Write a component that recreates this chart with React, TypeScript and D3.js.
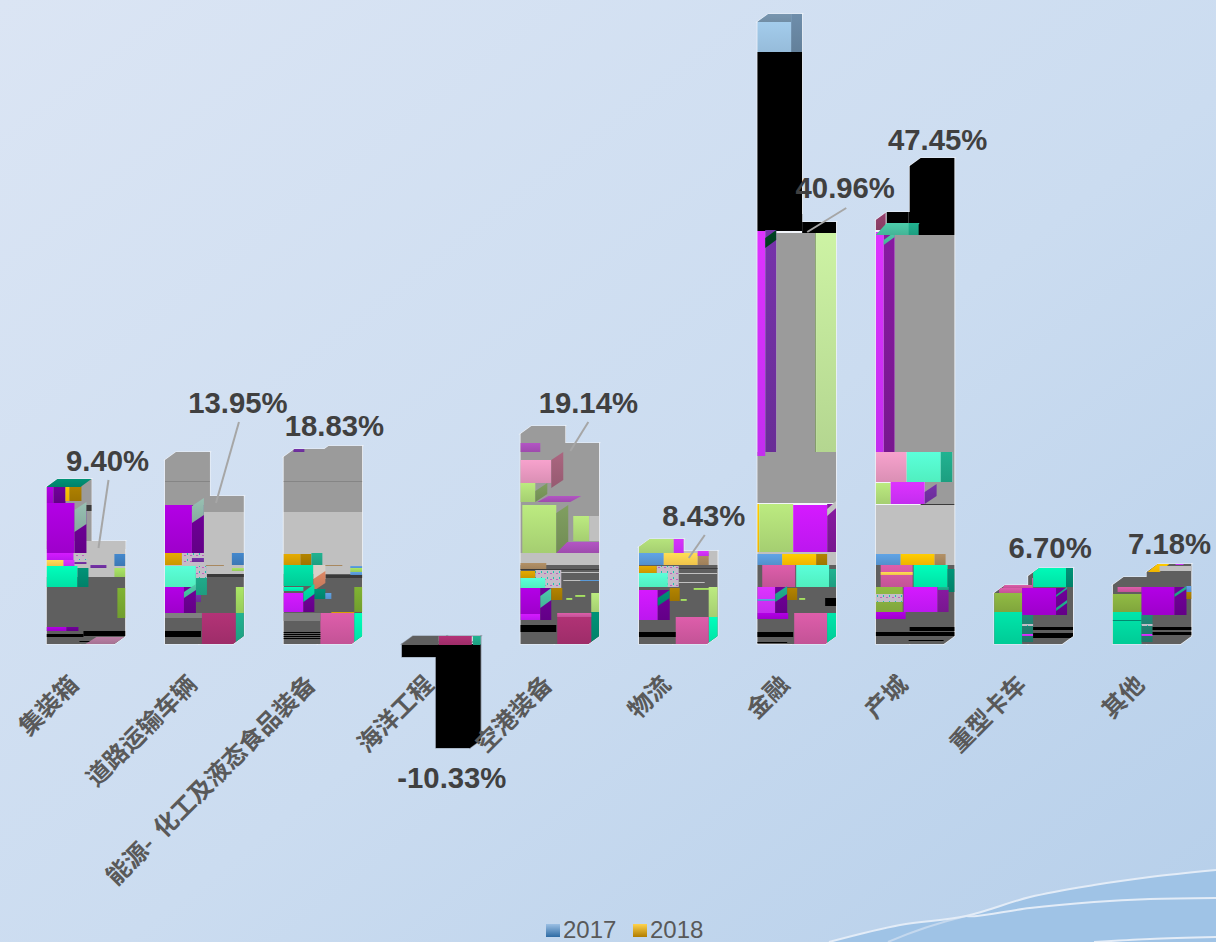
import React, { useEffect, useRef } from 'react';
import * as d3 from 'd3';

const WIDTH = 1216;
const HEIGHT = 942;

const categories = ['集装箱', '道路运输车辆', '能源-  化工及液态食品装备', '海洋工程', '空港装备', '物流', '金融', '产城', '重型卡车', '其他'];
const seriesNames = ['2017', '2018'];
const values2017 = [157, 184, 187, -13, 210, 97, 622, 424, 51, 59];
const values2018 = [95, 140, 190, -104, 193, 85, 414, 478, 68, 72];
const growthLabels = ['9.40%', '13.95%', '18.83%', '-10.33%', '19.14%', '8.43%', '40.96%', '47.45%', '6.70%', '7.18%'];

// where each growth label sits relative to its category band [dx, value]
const labelAnchors: [number, number][] = [[61, 173], [73, 231], [51, 208], [50, -144], [68, 231], [65, 118], [88, 446], [62, 494], [56, 86], [57, 90]];
// leader lines [dx1, value1, dx2, value2], null when the label has none
const leaders: (number[] | null)[] = [[62, 164, 52, 96], [74, 222, 51, 141], null, null, [68, 222, 50, 193], [66, 109, 50, 86], [89, 436, 50, 412], null, null, null];

const palette: Record<string, string> = {
  grey: '#9b9b9b', light: '#c0c0c0', dark: '#5f5f5f', mid: '#808080', shade: '#3a3a3a', black: '#000000', line: '#858585',
  mag: '#a800d8', magB: '#c818ff', magC: '#d030ff', magD: '#6a0090', magE: '#801898', purple: '#7030a0', lilac: '#a850b8',
  yellow: '#d8a000', gold: '#ffc000', sun: '#ffd050', brown: '#a87c00', tan: '#a88860',
  blue: '#4080c0', sky: '#5a9ad8', pale: '#a0c8e8', paleTop: '#7896b0', paleSide: '#6a88a4',
  lime: '#b0dc78', limeB: '#c0e49a', olive: '#78a830', moss: '#88b040', fern: '#78955a', leaf: '#a0d860',
  mint: '#55ffcc', aqua: '#00f0b0', teal: '#00d8a0', deep: '#1fa888', sea: '#008a70', seaB: '#48c0a0', pine: '#208070', forest: '#004020',
  pink: '#e898c0', rose: '#d058a0', wine: '#a83070', plum: '#90406a', mauve: '#b0789c', dusk: '#a06078',
  speck: '#c4bcc8', ash: '#d8d0c8', clay: '#d08060', dust: '#8fb5a8',
};

// [bandFrom, bandTo, valueFrom, valueTo, colour, form] form 1 leans like a top face, 2 like a side face
type Patch = [number, number, number, number, string, number?];

const containerPatches: Patch[] = [
  [0, 79, 95, 190, 'grey'], [0, 79, 67, 103, 'light'], [45, 79, 67, 103, 'light'], [0, 79, 0, 67, 'dark'],
  [34, 45, 103, 165, 'grey'], [0, 28, 91, 141, 'mag'], [28, 40, 91, 134, 'magD'], [28, 40, 112, 134, 'dust', 2],
  [0, 7, 141, 157, 'mag'], [7, 19, 141, 157, 'magD'], [19, 23, 143, 161, 'gold'], [23, 35, 143, 161, 'brown'],
  [0, 34, 157, 165, 'sea'], [7, 34, 157, 165, 'sea', 1], [40, 46, 133, 139, 'shade'],
  [0, 27, 84, 91, 'magB'], [0, 17, 78, 84, 'sun'], [17, 28, 78, 84, 'magC'], [28, 40, 84, 89, 'speck'], [28, 40, 80, 82, 'purple'],
  [68, 79, 78, 90, 'blue'], [68, 79, 67, 76, 'leaf'], [44, 60, 76, 79, 'purple'],
  [0, 31, 57, 78, 'aqua'], [31, 42, 57, 76, 'sea'],
  [71, 79, 26, 56, 'olive'], [0, 20, 13, 17, 'mag'], [20, 32, 13, 17, 'magD'],
  [37, 79, 8, 13, 'black'], [0, 37, 7, 10, 'black'], [33, 45, 2, 3, 'black'], [39, 68, 0, 7, 'mauve', 1],
];

const roadPatches: Patch[] = [
  [0, 79, 132, 200, 'grey'], [0, 45, 162, 163, 'line'], [0, 79, 70, 132, 'light'], [0, 79, 0, 70, 'dark'], [41, 79, 67, 70, 'shade'],
  [0, 27, 91, 139, 'mag'], [27, 39, 91, 139, 'magD'], [27, 39, 121, 138, 'dust', 2],
  [0, 17, 79, 91, 'yellow'], [17, 39, 79, 91, 'speck'], [27, 39, 82, 86, 'purple'],
  [67, 79, 79, 91, 'blue'], [67, 79, 73, 76, 'leaf'], [41, 59, 78, 79, 'tan'],
  [0, 31, 57, 78, 'mint'], [31, 42, 49, 78, 'deep'], [31, 42, 66, 78, 'speck'], [0, 19, 31, 57, 'mag'], [19, 31, 31, 57, 'magD'], [19, 31, 46, 52, 'seaB', 2], [31, 36, 42, 49, 'purple'],
  [71, 79, 31, 57, 'leaf'], [37, 71, 0, 31, 'wine'], [71, 79, 0, 31, 'deep'],
  [0, 37, 26, 31, 'mid'], [0, 36, 7, 13, 'black'],
];

const energyPatches: Patch[] = [
  [0, 79, 132, 200, 'grey'], [0, 79, 162, 163, 'line'], [0, 79, 70, 132, 'light'], [0, 79, 0, 70, 'dark'], [41, 79, 66, 69, 'shade'],
  [10, 21, 192, 195, 'purple'], [0, 17, 79, 90, 'yellow'], [17, 28, 79, 90, 'brown'], [28, 39, 79, 91, 'deep'],
  [41, 59, 78, 79, 'tan'], [67, 79, 76, 78, 'sky'], [67, 79, 72, 76, 'leaf'], [67, 79, 69, 72, 'sky'],
  [0, 30, 58, 79, 'teal'], [30, 42, 65, 79, 'ash'], [30, 42, 53, 65, 'clay', 2], [30, 42, 45, 55, 'sea'],
  [0, 20, 53, 57, 'aqua'], [0, 20, 32, 51, 'magB'], [20, 31, 32, 51, 'magD'], [20, 31, 42, 52, 'teal', 2], [42, 48, 45, 51, 'sky'],
  [71, 79, 32, 57, 'olive'], [48, 71, 31, 32, 'yellow'], [37, 71, 0, 31, 'rose'], [71, 79, 0, 31, 'aqua'],
  [0, 37, 23, 31, 'mid'], [0, 37, 11, 12, 'black'], [0, 37, 9, 10, 'black'], [0, 37, 7, 8, 'black'], [0, 37, 5, 6, 'black'],
];

const marinePatches: Patch[] = [
  [0, 79, -110, 0, 'black'], [0, 37, -1, 8, 'dark'], [37, 70, -1, 8, 'wine'], [71, 79, -1, 8, 'deep'],
];

const airportPatches: Patch[] = [
  [0, 79, 91, 220, 'grey'], [0, 79, 79, 91, 'light'], [0, 79, 0, 79, 'dark'],
  [0, 20, 192, 201, 'lilac'], [0, 31, 161, 184, 'pink'], [31, 43, 156, 184, 'dusk', 2],
  [0, 15, 142, 161, 'lime'], [15, 27, 142, 153, 'fern', 2], [17, 50, 142, 148, 'lilac', 1],
  [2, 36, 91, 139, 'lime'], [36, 48, 91, 131, 'fern', 2], [53, 69, 103, 128, 'lime'], [69, 79, 103, 128, 'light'],
  [36, 68, 91, 102, 'lilac', 1], [68, 79, 91, 102, 'lilac'],
  [0, 26, 74, 81, 'tan'], [0, 79, 74, 75, 'shade'], [30, 79, 71, 72, 'light'],
  [0, 15, 66, 73, 'yellow'], [15, 41, 56, 74, 'speck'], [0, 25, 56, 66, 'mint'],
  [0, 20, 30, 56, 'mag'], [0, 20, 24, 30, 'magB'], [20, 31, 24, 56, 'magD'], [20, 31, 36, 48, 'seaB', 2], [31, 42, 44, 56, 'brown'],
  [43, 66, 63, 64, 'light'], [60, 79, 63, 64, 'sky'], [55, 65, 47, 49, 'leaf'], [46, 52, 44, 46, 'leaf'],
  [71, 79, 32, 51, 'lime'], [71, 79, 0, 32, 'sea'], [37, 71, 0, 31, 'wine'], [37, 71, 27, 31, 'rose'],
  [0, 36, 12, 19, 'black'],
];

const logisticsPatches: Patch[] = [
  [0, 79, 79, 110, 'light'], [0, 79, 0, 79, 'dark'],
  [0, 35, 91, 110, 'lime'], [35, 45, 91, 110, 'magC'], [0, 25, 79, 91, 'sky'], [25, 59, 79, 91, 'sun'], [59, 70, 79, 91, 'tan'], [59, 70, 88, 93, 'magC'],
  [0, 79, 75, 76, 'shade'], [0, 18, 71, 78, 'yellow'], [18, 40, 57, 78, 'speck'], [0, 29, 57, 71, 'mint'],
  [40, 79, 70, 71, 'light'], [40, 66, 61, 62, 'light'], [55, 75, 54, 56, 'leaf'],
  [0, 19, 24, 54, 'magB'], [19, 31, 24, 54, 'magD'], [19, 31, 38, 46, 'sea', 2], [31, 41, 43, 56, 'brown'], [42, 48, 43, 45, 'leaf'],
  [70, 79, 27, 57, 'lime'], [70, 79, 0, 27, 'aqua'], [37, 70, 0, 27, 'rose'],
  [0, 37, 7, 12, 'black'],
];

const financePatches: Patch[] = [
  [0, 45, 592, 640, 'pale'], [0, 34, 622, 640, 'paleTop'], [34, 45, 592, 640, 'paleSide'],
  [0, 45, 413, 592, 'black'], [45, 79, 411, 430, 'black'],
  [19, 58, 188, 411, 'grey'], [0, 79, 141, 192, 'grey'], [58, 59, 192, 411, 'fern'],
  [59, 79, 192, 411, 'limeB'], [0, 8, 188, 413, 'magC'], [8, 19, 192, 414, 'purple'], [8, 19, 396, 406, 'forest', 2],
  [0, 2, 92, 140, 'gold'], [2, 36, 92, 140, 'lime'], [36, 70, 92, 139, 'magB'], [70, 79, 92, 140, 'magE'], [70, 79, 128, 135, 'light', 2],
  [0, 79, 79, 92, 'light'], [0, 25, 79, 90, 'sky'], [25, 59, 79, 90, 'gold'], [59, 70, 79, 90, 'brown'],
  [0, 79, 0, 79, 'dark'], [5, 38, 57, 79, 'rose'], [39, 72, 57, 79, 'mint'], [72, 79, 57, 75, 'deep'],
  [0, 18, 31, 57, 'magC'], [0, 18, 43, 45, 'sky'], [0, 31, 25, 31, 'mag'], [18, 30, 31, 57, 'magD'], [18, 30, 42, 50, 'deep', 2], [30, 40, 44, 56, 'brown'],
  [42, 48, 44, 46, 'leaf'], [68, 79, 38, 46, 'black'], [37, 70, 0, 31, 'rose'], [70, 79, 0, 31, 'teal'], [0, 36, 7, 12, 'black'], [0, 30, 1, 2, 'black'],
];

const townPatches: Patch[] = [
  [0, 10, 414, 433, 'plum'], [11, 33, 421, 433, 'black'], [33, 79, 409, 490, 'black'],
  [19, 79, 192, 409, 'grey'], [0, 8, 192, 412, 'magC'], [8, 19, 192, 410, 'magE'], [8, 19, 399, 404, 'seaB', 2],
  [0, 33, 409, 421, 'seaB', 1], [33, 43, 409, 421, 'deep'],
  [0, 31, 162, 192, 'pink'], [31, 65, 162, 192, 'mint'], [65, 77, 162, 192, 'deep'], [77, 79, 162, 192, 'grey'],
  [0, 15, 140, 161, 'lime'], [49, 79, 140, 162, 'grey'], [15, 49, 140, 162, 'magC'], [49, 61, 140, 152, 'purple', 2], [45, 79, 139, 140, 'shade'],
  [0, 79, 91, 139, 'light'], [0, 79, 79, 91, 'light'], [0, 25, 79, 90, 'sky'], [25, 59, 79, 90, 'gold'], [59, 70, 79, 90, 'tan'],
  [0, 79, 0, 79, 'dark'], [5, 37, 57, 79, 'rose'], [5, 37, 69, 72, 'sun'], [38, 72, 57, 79, 'aqua'], [72, 79, 52, 75, 'sea'],
  [0, 27, 32, 57, 'moss'], [0, 27, 42, 50, 'speck'], [28, 62, 32, 57, 'magB'], [62, 73, 32, 57, 'magE'], [62, 73, 54, 57, 'deep'],
  [0, 30, 25, 32, 'mag'], [34, 79, 13, 17, 'black'], [0, 79, 8, 12, 'black'], [33, 68, 3, 4, 'black'],
];

const truckPatches: Patch[] = [
  [0, 79, 0, 80, 'dark'], [39, 72, 57, 80, 'aqua'], [72, 79, 57, 76, 'sea'],
  [9, 38, 56, 59, 'rose'], [5, 28, 51, 56, 'rose'], [38, 39, 56, 66, 'rose'], [0, 28, 32, 51, 'moss'],
  [28, 62, 29, 56, 'mag'], [62, 73, 29, 56, 'magD'], [62, 73, 33, 36, 'deep', 2], [62, 73, 47, 49, 'deep', 2],
  [0, 28, 0, 32, 'teal'], [28, 39, 2, 29, 'pine'], [28, 39, 8, 10, 'magC'], [28, 39, 18, 20, 'speck'], [39, 79, 14, 17, 'black'], [39, 79, 6, 11, 'black'],
];

const otherPatches: Patch[] = [
  [0, 79, 0, 90, 'dark'], [35, 47, 72, 81, 'gold', 1], [47, 79, 73, 78, 'light'], [63, 71, 79, 81, 'magC'],
  [5, 29, 52, 57, 'rose'], [0, 29, 32, 50, 'moss'], [29, 62, 29, 57, 'mag'], [62, 74, 29, 57, 'magD'], [62, 74, 47, 50, 'deep', 2],
  [74, 79, 52, 58, 'sky'], [74, 79, 45, 52, 'brown'], [0, 29, 0, 32, 'teal'], [0, 29, 23, 24, 'sea'], [29, 40, 2, 29, 'pine'], [29, 40, 8, 10, 'magC'], [29, 40, 18, 20, 'speck'],
  [40, 79, 14, 17, 'black'], [40, 79, 9, 12, 'black'],
];

const patchesByCategory = [containerPatches, roadPatches, energyPatches, marinePatches, airportPatches, logisticsPatches, financePatches, townPatches, truckPatches, otherPatches];

export default function App() {
  const svgRef = useRef<SVGSVGElement>(null);

  useEffect(() => {
    const svg = d3.select(svgRef.current);
    svg.selectAll('*').remove();

    const defs = svg.append('defs');

    const bg = defs.append('linearGradient').attr('id', 'page-bg').attr('x1', 0).attr('y1', 0).attr('x2', 1).attr('y2', 1);
    bg.append('stop').attr('offset', '0%').attr('stop-color', '#dbe5f4');
    bg.append('stop').attr('offset', '55%').attr('stop-color', '#cbdcf0');
    bg.append('stop').attr('offset', '100%').attr('stop-color', '#b6cfea');

    // most faces fade slightly from top to bottom, the greys stay flat
    Object.entries(palette).filter(([name]) => name !== 'speck').forEach(([name, colour]) => {
      const hcl = d3.hcl(colour);
      const g = defs.append('linearGradient').attr('id', `fill-${name}`).attr('x1', 0).attr('y1', 0).attr('x2', 0).attr('y2', 1);
      const amount = hcl.c > 12 ? 0.18 : 0;
      g.append('stop').attr('offset', '0%').attr('stop-color', d3.color(colour)!.brighter(amount).formatHex());
      g.append('stop').attr('offset', '100%').attr('stop-color', d3.color(colour)!.darker(amount).formatHex());
    });

    // the mottled faces
    const speck = defs.append('pattern').attr('id', 'fill-speck').attr('width', 6).attr('height', 6).attr('patternUnits', 'userSpaceOnUse');
    speck.append('rect').attr('width', 6).attr('height', 6).attr('fill', palette.speck);
    speck.append('rect').attr('x', 1).attr('y', 1).attr('width', 1).attr('height', 2).attr('fill', '#20c0b0');
    speck.append('rect').attr('x', 4).attr('y', 3).attr('width', 2).attr('height', 1).attr('fill', '#c060c0');

    const swatchColours = [['#9cc0e4', '#2e6ba4'], ['#ffd34d', '#b07c00']];
    swatchColours.forEach(([a, b], i) => {
      const g = defs.append('linearGradient').attr('id', `swatch-${i}`).attr('x1', 0).attr('y1', 0).attr('x2', 0).attr('y2', 1);
      g.append('stop').attr('offset', '0%').attr('stop-color', a);
      g.append('stop').attr('offset', '100%').attr('stop-color', b);
    });

    svg.append('rect').attr('width', WIDTH).attr('height', HEIGHT).attr('fill', 'url(#page-bg)');

    // Wave decoration in the corner
    const curve = d3.line().curve(d3.curveCatmullRom);
    const waveTop: [number, number][] = [[829, 942], [900, 925], [966, 916], [1030, 897], [1094, 885], [1150, 877], [1216, 870]];
    const waveMid: [number, number][] = [[966, 916], [977, 916], [1030, 908], [1094, 902], [1150, 899], [1216, 898]];
    const waveLow: [number, number][] = [[1094, 942], [1150, 939], [1216, 937]];
    svg.append('path')
      .attr('d', `${curve(waveTop)}L1216,942Z`)
      .attr('fill', '#9fc3e6');
    svg.append('path').attr('d', 'M888,942Q925,926 966,916').attr('fill', 'none').attr('stroke', '#c4d8ee').attr('stroke-width', 2);
    [waveTop, waveMid, waveLow].forEach(w => {
      svg.append('path').attr('d', curve(w)).attr('fill', 'none').attr('stroke', '#e3ecf7').attr('stroke-width', 2);
    });

    // Scales
    const x = d3.scaleBand().domain(categories).range([46.5, 1191.5]).paddingInner(0.334);
    const inner = d3.scaleBand().domain(seriesNames).range([0, 68]);
    const bandUnit = d3.scaleLinear().domain([0, 79]).range([0, x.bandwidth()]);
    const y = d3.scaleLinear().domain([0, 622]).range([644, 22]);
    const depthX = 11;
    const depthY = 8;

    const barFaces = (left: number, value: number) => {
      const right = left + inner.bandwidth();
      const top = y(Math.max(value, 0));
      const bottom = y(Math.min(value, 0));
      const chamfer = value < 0 ? bottom : y(0);
      return [
        [[left, top], [right, top], [right, bottom], [left, bottom]],
        [[left, top], [left + depthX, top - depthY], [right + depthX, top - depthY], [right, top]],
        [[right, top], [right + depthX, top - depthY], [right + depthX, chamfer - depthY], [right, chamfer]],
      ];
    };
    const pointsOf = (face: number[][]) => face.map(p => p.join(',')).join(' ');

    categories.forEach((category, i) => {
      const left = x(category)!;
      const faces = [
        ...barFaces(left + inner('2017')!, values2017[i]),
        ...barFaces(left + inner('2018')!, values2018[i]),
      ];

      const g = svg.append('g').attr('class', 'category');

      // pale rim round the bars
      g.selectAll('polygon.rim')
        .data(faces)
        .enter()
        .append('polygon')
        .attr('class', 'rim')
        .attr('points', pointsOf)
        .attr('fill', '#f2f5fa')
        .attr('stroke', values2017[i] < 0 ? '#8a93a0' : '#eef2f8')
        .attr('stroke-width', 1.2);

      const clip = defs.append('clipPath').attr('id', `bars-${i}`);
      clip.selectAll('polygon').data(faces).enter().append('polygon').attr('points', pointsOf);

      const texture = g.append('g').attr('clip-path', `url(#bars-${i})`);
      texture.selectAll('polygon')
        .data(patchesByCategory[i])
        .enter()
        .append('polygon')
        .attr('points', d => {
          const [u0, u1, v0, v1, , form] = d;
          const shift = form === 1 ? depthX : 0;
          const rise = form === 2 ? depthY : 0;
          const x0 = left + bandUnit(u0);
          const x1 = left + bandUnit(u1);
          return `${x0},${y(v0)} ${x1},${y(v0) - rise} ${x1 + shift},${y(v1) - rise} ${x0 + shift},${y(v1)}`;
        })
        .attr('fill', d => `url(#fill-${d[4]})`);

      // Leader line
      const leader = leaders[i];
      if (leader) {
        svg.append('line')
          .attr('x1', left + leader[0]).attr('y1', y(leader[1]))
          .attr('x2', left + leader[2]).attr('y2', y(leader[3]))
          .attr('stroke', '#a6a6a6')
          .attr('stroke-width', 2);
      }
    });

    // Growth labels
    svg.selectAll('text.growth')
      .data(growthLabels)
      .enter()
      .append('text')
      .attr('class', 'growth')
      .attr('x', (d, i) => x(categories[i])! + labelAnchors[i][0])
      .attr('y', (d, i) => y(labelAnchors[i][1]))
      .attr('text-anchor', 'middle')
      .style('font-family', '"Liberation Sans", Arial, sans-serif')
      .style('font-weight', 'bold')
      .style('font-size', '29.3px')
      .style('fill', '#404040')
      .text(d => d);

    // Category labels
    svg.selectAll('text.category-label')
      .data(categories)
      .enter()
      .append('text')
      .attr('class', 'category-label')
      .attr('transform', d => `translate(${x(d)! + x.bandwidth() / 2 - 6},686) rotate(-45)`)
      .attr('text-anchor', 'end')
      .style('font-family', '"Noto Sans CJK SC", sans-serif')
      .style('font-weight', 'bold')
      .style('font-size', '24px')
      .style('white-space', 'pre')
      .style('fill', '#595959')
      .text(d => d);

    // Legend
    const legendX = d3.scaleOrdinal<string, number>().domain(seriesNames).range([546, 633]);
    seriesNames.forEach((name, i) => {
      svg.append('rect')
        .attr('x', legendX(name)).attr('y', 924)
        .attr('width', 14).attr('height', 13)
        .attr('fill', `url(#swatch-${i})`);
      svg.append('text')
        .attr('x', legendX(name) + 17).attr('y', 938)
        .style('font-family', '"Liberation Sans", Arial, sans-serif')
        .style('font-size', '24px')
        .style('fill', '#595959')
        .text(name);
    });
  }, []);

  return <svg ref={svgRef} width={WIDTH} height={HEIGHT} style={{ position: 'absolute', left: 0, top: 0 }} />;
}
